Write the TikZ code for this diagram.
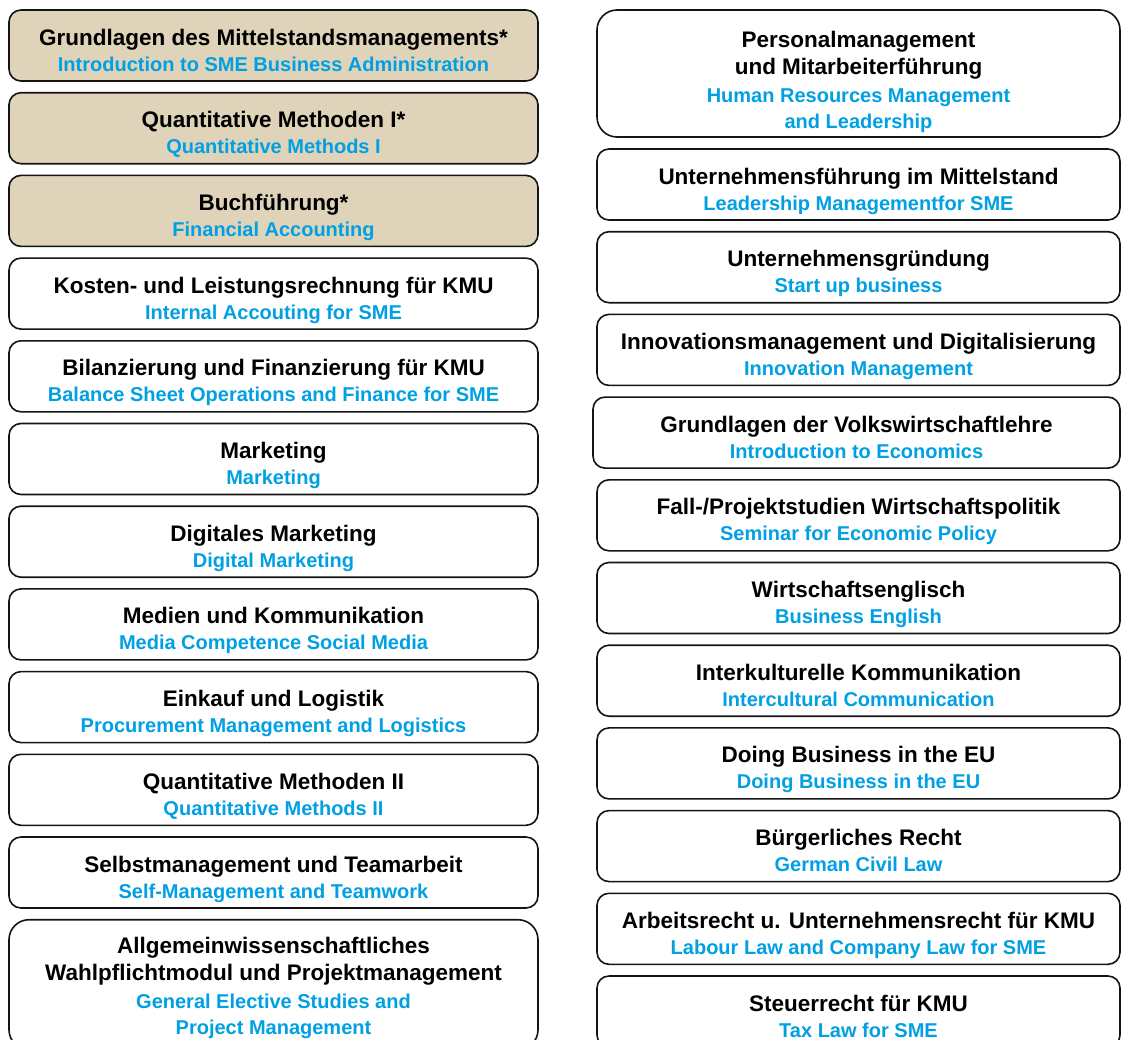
\documentclass[tikz,border=0pt]{standalone}
\usepackage{fontspec}
\setmainfont{Liberation Sans}
\definecolor{modtan}{RGB}{223,212,186}
\definecolor{engblue}{RGB}{0,160,227}
\definecolor{edge}{RGB}{20,20,20}
% two-line module: German title, English title
\newcommand{\modtwo}[2]{\begin{minipage}[t][71pt][t]{505pt}\centering
  \fontsize{22.5}{27}\selectfont\rule{0pt}{35pt}#1\par
  \fontsize{20}{26}\selectfont\textcolor{engblue}{#2}\par\end{minipage}}
% four-line module: box height, first baseline, two German lines, two English lines
\newcommand{\modfour}[6]{\begin{minipage}[t][#1][t]{505pt}\centering
  \fontsize{22.5}{27}\selectfont\rule{0pt}{#2}#3\par #4\par
  \fontsize{20}{28}\selectfont\textcolor{engblue}{#5}\par
  \fontsize{20}{26}\selectfont\textcolor{engblue}{#6}\par\end{minipage}}
\tikzset{
  modbox/.style={draw=edge, line width=1.6pt, rounded corners=12pt, minimum height=71pt,
    inner sep=0pt, font=\bfseries},
  leftbox/.style={modbox, minimum width=529pt},
  rightbox/.style={modbox, minimum width=523pt},
  corebox/.style={leftbox, fill=modtan},
  tallbox/.style={rounded corners=20pt},
}
\begin{document}
\begin{tikzpicture}[x=1pt, y=-1pt]
\clip (0,0) rectangle (1121,1039);
\fill[white] (0,0) rectangle (1121,1039);
% left column
\node[corebox] (l1) at (273.5,45.5) {\modtwo{Grundlagen des Mittelstandsmanagements*}{Introduction to SME Business Administration}};
\node[corebox] (l2) at (273.5,128.2) {\modtwo{Quantitative Methoden I*}{Quantitative Methods I}};
\node[corebox] (l3) at (273.5,210.9) {\modtwo{Buchführung*}{Financial Accounting}};
\node[leftbox] (l4) at (273.5,293.6) {\modtwo{Kosten- und Leistungsrechnung für KMU}{Internal Accouting for SME}};
\node[leftbox] (l5) at (273.5,376.3) {\modtwo{Bilanzierung und Finanzierung für KMU}{Balance Sheet Operations and Finance for SME}};
\node[leftbox] (l6) at (273.5,459) {\modtwo{Marketing}{Marketing}};
\node[leftbox] (l7) at (273.5,541.7) {\modtwo{Digitales Marketing}{Digital Marketing}};
\node[leftbox] (l8) at (273.5,624.4) {\modtwo{Medien und Kommunikation}{Media Competence Social Media}};
\node[leftbox] (l9) at (273.5,707.1) {\modtwo{Einkauf und Logistik}{Procurement Management and Logistics}};
\node[leftbox] (l10) at (273.5,789.8) {\modtwo{Quantitative Methoden II}{Quantitative Methods II}};
\node[leftbox] (l11) at (273.5,872.5) {\modtwo{Selbstmanagement und Teamarbeit}{Self-Management and Teamwork}};
\node[leftbox, tallbox, minimum height=130pt] (l12) at (273.5,984.7) {\modfour{130pt}{34pt}{Allgemeinwissenschaftliches}{Wahlpflichtmodul und Projektmanagement}{General Elective Studies and}{Project Management}};
% right column
\node[rightbox, tallbox, minimum height=127pt] (r1) at (858.5,73.5) {\modfour{127pt}{37pt}{Personalmanagement}{und Mitarbeiterführung}{Human Resources Management}{and Leadership}};
\node[rightbox] (r2) at (858.5,184.5) {\modtwo{Unternehmensführung im Mittelstand}{Leadership Managementfor SME}};
\node[rightbox] (r3) at (858.5,267.2) {\modtwo{Unternehmensgründung}{Start up business}};
\node[rightbox] (r4) at (858.5,349.9) {\modtwo{Innovationsmanagement und Digitalisierung}{Innovation Management}};
\node[rightbox, minimum width=527pt] (r5) at (856.5,432.6) {\modtwo{Grundlagen der Volkswirtschaftlehre}{Introduction to Economics}};
\node[rightbox] (r6) at (858.5,515.3) {\modtwo{Fall-/Projektstudien Wirtschaftspolitik}{Seminar for Economic Policy}};
\node[rightbox] (r7) at (858.5,598) {\modtwo{Wirtschaftsenglisch}{Business English}};
\node[rightbox] (r8) at (858.5,680.7) {\modtwo{Interkulturelle Kommunikation}{Intercultural Communication}};
\node[rightbox] (r9) at (858.5,763.4) {\modtwo{Doing Business in the EU}{Doing Business in the EU}};
\node[rightbox] (r10) at (858.5,846.1) {\modtwo{Bürgerliches Recht}{German Civil Law}};
\node[rightbox] (r11) at (858.5,928.8) {\modtwo{Arbeitsrecht u. Unternehmensrecht für KMU}{Labour Law and Company Law for SME}};
\node[rightbox] (r12) at (858.5,1011.5) {\modtwo{Steuerrecht für KMU}{Tax Law for SME}};
\end{tikzpicture}
\end{document}
